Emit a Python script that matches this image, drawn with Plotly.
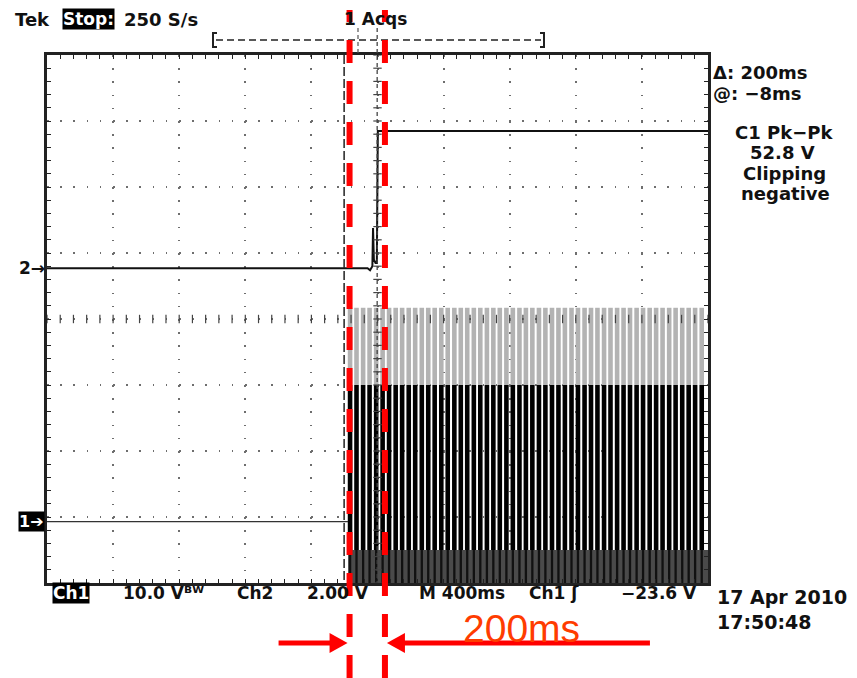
import plotly.graph_objects as go

# ---------------- data ----------------
X_RANGE = [-2000, 2000]          # ms  (M 400 ms / div, 10 div)
Y_RANGE = [-4, 4]                # divisions (8 div)

# Ch2: flat, small glitch, then step up at the trigger
ch2_t = [-2000, -60, -45, -35, -31, -27, -22, -12, -4, 2, 2000]
ch2_v = [0.77, 0.77, 0.74, 0.80, 0.80, 1.38, 0.90, 0.85, 0.85, 2.85, 2.85]

# Ch1: idle level before the burst
ch1_pre_t = [-2000, -178]
ch1_pre_v = [-3.07, -3.07]

# Ch1 burst (clipping negative): pulse centres in ms
pulse_t = [-166, -127, -87, -48, -8, 31, 70, 110, 149, 189, 228, 268, 307,
           346, 386, 425, 465, 504, 543, 583, 622, 662, 701, 740, 780, 819,
           859, 898, 937, 977, 1016, 1056, 1095, 1134, 1174, 1213, 1253, 1292,
           1331, 1371, 1410, 1450, 1489, 1528, 1568, 1607, 1647, 1686, 1725,
           1765, 1804, 1844, 1883, 1922, 1962]
burst_span = [-178, 2000]
pulse_gray_top = 0.17
pulse_black_top = -1.0
clip_level = -3.5
screen_bottom = -4.0

cursor_t = [-202, -2]            # Tek cursors (delta 200 ms)
red_marker_t = [-169, 45]        # red overlay lines

# ---------------- layout geometry ----------------
L, T, W, H = 47, 55, 661, 528
FIG_W, FIG_H = 857, 678
MS_PER_PX = (X_RANGE[1] - X_RANGE[0]) / W


def PX(x):
    return (x - L) / W


def PY(y):
    return (T + H - y) / H


fig = go.Figure()

n = len(pulse_t)
pulse_w = 4.6 * MS_PER_PX

# clipped band (as a bar so pulse bars draw over it)
fig.add_trace(go.Bar(
    x=[(burst_span[0] + burst_span[1]) / 2], y=[clip_level - screen_bottom],
    base=[screen_bottom], width=burst_span[1] - burst_span[0],
    marker=dict(color="#4a4a4a", line=dict(width=0)), hoverinfo="skip"))

fig.add_trace(go.Bar(
    x=pulse_t, y=[pulse_gray_top - pulse_black_top] * n,
    base=[pulse_black_top] * n, width=pulse_w,
    marker=dict(color="#b3b3b3", line=dict(width=0))))
fig.add_trace(go.Bar(
    x=pulse_t, y=[pulse_black_top - clip_level] * n,
    base=[clip_level] * n, width=pulse_w,
    marker=dict(color="#000000", line=dict(width=0))))
fig.add_trace(go.Bar(
    x=pulse_t, y=[clip_level - screen_bottom] * n,
    base=[screen_bottom] * n, width=pulse_w * 0.5,
    marker=dict(color="#111111", line=dict(width=0))))

# Ch1 idle line
fig.add_trace(go.Scatter(x=ch1_pre_t, y=ch1_pre_v, mode="lines",
                         line=dict(color="#333333", width=1.3)))
# Ch2
fig.add_trace(go.Scatter(x=ch2_t, y=ch2_v, mode="lines",
                         line=dict(color="#111111", width=2)))

# crosshair ticks on the centre lines
x_minor = [X_RANGE[0] + 80 * i for i in range(51)]
y_minor = [Y_RANGE[0] + 0.2 * i for i in range(41)]
fig.add_trace(go.Scatter(x=x_minor, y=[0] * len(x_minor), mode="markers",
                         marker=dict(symbol="line-ns", size=6,
                                     line=dict(color="#444", width=1.2))))
fig.add_trace(go.Scatter(x=[0] * len(y_minor), y=y_minor, mode="markers",
                         marker=dict(symbol="line-ew", size=6,
                                     line=dict(color="#444", width=1.2))))

axis_common = dict(showline=True, linecolor="#222", linewidth=2.5,
                   mirror="allticks", ticks="inside", ticklen=4,
                   tickwidth=1.2, tickcolor="#222", showticklabels=False,
                   showgrid=True, gridcolor="#6e6e6e", gridwidth=1.6,
                   griddash="1.6px,11.6px", zeroline=False, fixedrange=True)

fig.update_xaxes(range=X_RANGE, dtick=400, tick0=0,
                 minor=dict(dtick=80, ticks="inside", ticklen=4,
                            tickcolor="#222", showgrid=False),
                 **axis_common)
fig.update_yaxes(range=Y_RANGE, dtick=1, tick0=0,
                 minor=dict(dtick=0.2, ticks="inside", ticklen=4,
                            tickcolor="#222", showgrid=False),
                 **axis_common)

shapes = []
# Tek cursors
shapes.append(dict(type="line", xref="x", yref="paper",
                   x0=cursor_t[0], x1=cursor_t[0], y0=PY(55), y1=PY(583),
                   line=dict(color="#222", width=1.5, dash="9px,3px")))
shapes.append(dict(type="line", xref="x", yref="paper",
                   x0=cursor_t[1], x1=cursor_t[1], y0=PY(28), y1=PY(583),
                   line=dict(color="#444", width=1.3, dash="4px,3px")))
# trigger position marker above graticule
trig_px = L + W / 2 - 19.5
shapes.append(dict(type="line", xref="paper", yref="paper",
                   x0=PX(trig_px), x1=PX(trig_px), y0=PY(28), y1=PY(55),
                   line=dict(color="#555", width=1.2, dash="4px,3px")))
# record bracket
shapes.append(dict(type="line", xref="paper", yref="paper",
                   x0=PX(216), x1=PX(541), y0=PY(40), y1=PY(40),
                   line=dict(color="#222", width=1.5, dash="7px,4px")))
shapes.append(dict(type="path", xref="paper", yref="paper",
                   path=f"M{PX(217)},{PY(33)} L{PX(213)},{PY(33)} L{PX(213)},{PY(47)} L{PX(217)},{PY(47)}",
                   line=dict(color="#222", width=2)))
shapes.append(dict(type="path", xref="paper", yref="paper",
                   path=f"M{PX(540)},{PY(33)} L{PX(544)},{PY(33)} L{PX(544)},{PY(47)} L{PX(540)},{PY(47)}",
                   line=dict(color="#222", width=2)))

# red overlay dashed lines
red_dash = "12px,18px," + ",".join(["23px,18px"] * 17)
for t in red_marker_t:
    shapes.append(dict(type="line", xref="x", yref="paper",
                       x0=t, x1=t, y0=PY(10), y1=PY(680),
                       line=dict(color="#ff0000", width=6, dash=red_dash)))

# red arrows
ay = PY(643)
lt, rt = red_marker_t
lx_tip = lt - 2 * MS_PER_PX
rx_tip = rt + 2 * MS_PER_PX
head_len = 18 * MS_PER_PX
hh = 10 / H
shapes.append(dict(type="line", xref="x", yref="paper",
                   x0=lx_tip - 69 * MS_PER_PX, x1=lx_tip - head_len + 2 * MS_PER_PX,
                   y0=ay, y1=ay, line=dict(color="#ff0000", width=5)))
shapes.append(dict(type="path", xref="x", yref="paper",
                   path=f"M{lx_tip},{ay} L{lx_tip - head_len},{ay + hh} L{lx_tip - head_len},{ay - hh} Z",
                   fillcolor="#ff0000", line=dict(color="#ff0000", width=0)))
shapes.append(dict(type="line", xref="x", yref="paper",
                   x0=rx_tip + head_len - 2 * MS_PER_PX, x1=rx_tip + 263 * MS_PER_PX,
                   y0=ay, y1=ay, line=dict(color="#ff0000", width=5)))
shapes.append(dict(type="path", xref="x", yref="paper",
                   path=f"M{rx_tip},{ay} L{rx_tip + head_len},{ay + hh} L{rx_tip + head_len},{ay - hh} Z",
                   fillcolor="#ff0000", line=dict(color="#ff0000", width=0)))

FONT = "DejaVu Sans"
annotations = []


def text(s, x, y, size=17, color="#111", bg=None, anchor="left", font=FONT):
    d = dict(text=s, x=PX(x), y=PY(y), xref="paper", yref="paper",
             xanchor=anchor, yanchor="middle", showarrow=False,
             font=dict(family=font, size=size, color=color),
             borderpad=0)
    if bg:
        d["bgcolor"] = bg
    annotations.append(d)


text("<b>Tek</b>", 14, 19, size=18)
text("<b>Stop:</b>", 62, 19, color="white", bg="black")
text("<b>250 S/s</b>", 123, 19, size=18)
text("<b>1 Acqs</b>", 343, 19)

text("<b>Δ: 200ms</b>", 712, 73, size=18)
text("<b>@: −8ms</b>", 712, 93, size=18)
text("<b>C1 Pk−Pk</b>", 784, 132, anchor="center", size=18)
text("<b>52.8 V</b>", 782, 152, anchor="center", size=18)
text("<b>Clipping</b>", 784, 173, anchor="center", size=18)
text("<b>negative</b>", 785, 193, anchor="center", size=18)

text("<b>2→</b>", 18, 268)
text("<b>1➔</b>", 18, 521, color="white", bg="black", size=16)

text("<b>Ch1</b>", 52, 593, color="white", bg="black")
text("<b>10.0 Vᴮᵂ</b>", 122, 593)
text("<b>Ch2</b>", 236, 593)
text("<b>2.00 V</b>", 306, 593)
text("<b>M 400ms</b>", 418, 593)
text("<b>Ch1 ʃ</b>", 528, 593)
text("<b>−23.6 V</b>", 620, 593)

text("<b>17 Apr 2010</b>", 716, 597, size=19)
text("<b>17:50:48</b>", 716, 622, size=19)

text("200ms", 521, 628, size=39, color="#ff3c00", anchor="center",
     font="Liberation Sans")

fig.update_layout(
    width=FIG_W, height=FIG_H,
    margin=dict(l=L, r=FIG_W - L - W, t=T, b=FIG_H - T - H),
    paper_bgcolor="white", plot_bgcolor="white",
    showlegend=False, barmode="overlay", hovermode=False,
    shapes=shapes, annotations=annotations,
)

fig.write_html("out.html", config={"displayModeBar": False},
               post_script="document.body.style.margin='0';"
                           "document.body.style.overflow='hidden';")
